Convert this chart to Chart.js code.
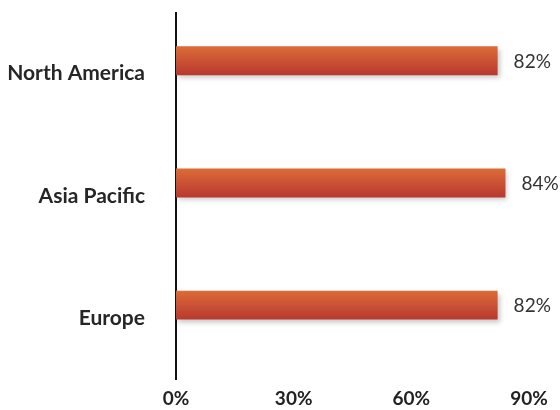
<!DOCTYPE html>
<html lang="en">
<head>
<meta charset="UTF-8" />
<title>Regional share</title>
<script src="https://cdn.jsdelivr.net/npm/chart.js"></script>
<style>
  body { margin: 0; padding: 0; background: #fff; }
  .chart-container { position: relative; width: 560px; height: 410px; }
</style>
</head>
<body>
<div class="chart-container">
  <canvas id="chart"></canvas>
</div>
<script>
  const categories = ['North America', 'Asia Pacific', 'Europe'];
  const shares = [82, 84, 82];
  const xMin = 0, xMax = 90, xStep = 30;

  // per-bar gradient + soft shadow, applied once the bars have their positions
  const barStyle = {
    id: 'barStyle',
    beforeDatasetDraw(chart, args) {
      if (args.index !== 0) return;
      const ctx = chart.ctx;
      args.meta.data.forEach(el => {
        const top = el.y - el.height / 2, bottom = el.y + el.height / 2;
        const g = ctx.createLinearGradient(0, top, 0, bottom);
        g.addColorStop(0, '#dc6c38');
        g.addColorStop(1, '#b8382f');
        el.options = Object.assign({}, el.options, { backgroundColor: g });
      });
      ctx.save();
      ctx.shadowColor = 'rgba(0,0,0,0.22)';
      ctx.shadowBlur = 5;
      ctx.shadowOffsetX = 2;
      ctx.shadowOffsetY = 3;
    },
    afterDatasetDraw(chart, args) {
      if (args.index !== 0) return;
      chart.ctx.restore();
    }
  };

  const valueLabels = {
    id: 'valueLabels',
    afterDatasetsDraw(chart) {
      const ctx = chart.ctx;
      ctx.save();
      ctx.font = '19px Lato, sans-serif';
      ctx.fillStyle = '#333';
      ctx.textAlign = 'left';
      ctx.textBaseline = 'middle';
      chart.getDatasetMeta(0).data.forEach((el, i) => {
        ctx.fillText(shares[i] + '%', el.x + 16, el.y + 1);
      });
      ctx.restore();
    }
  };

  new Chart(document.getElementById('chart'), {
    type: 'bar',
    data: {
      labels: categories,
      datasets: [{
        label: 'Share',
        data: shares,
        backgroundColor: '#c9502f',
        categoryPercentage: 0.425,
        barPercentage: 1.115
      }, {
        label: '',
        data: categories.map(() => null),
        categoryPercentage: 0.425,
        barPercentage: 1.115
      }]
    },
    options: {
      indexAxis: 'y',
      responsive: true,
      maintainAspectRatio: false,
      animation: false,
      layout: { padding: { top: 12, right: 31, left: 0, bottom: 0 } },
      plugins: { legend: { display: false }, tooltip: { enabled: false } },
      scales: {
        x: {
          min: xMin,
          max: xMax,
          grid: { display: false, drawTicks: true, tickLength: 8 },
          border: { display: false },
          ticks: {
            stepSize: xStep,
            padding: 0,
            color: '#222',
            font: { family: 'Lato', size: 19, weight: 'bold' },
            callback: v => v + '%'
          }
        },
        y: {
          grid: { display: false, drawTicks: true, tickLength: 31 },
          border: { display: true, color: '#111', width: 2 },
          afterFit: s => { s.width = 176; },
          ticks: {
            padding: 0,
            color: '#262626',
            font: { family: 'Lato', size: 21, weight: 'bold' }
          }
        }
      }
    },
    plugins: [barStyle, valueLabels]
  });
</script>
</body>
</html>
